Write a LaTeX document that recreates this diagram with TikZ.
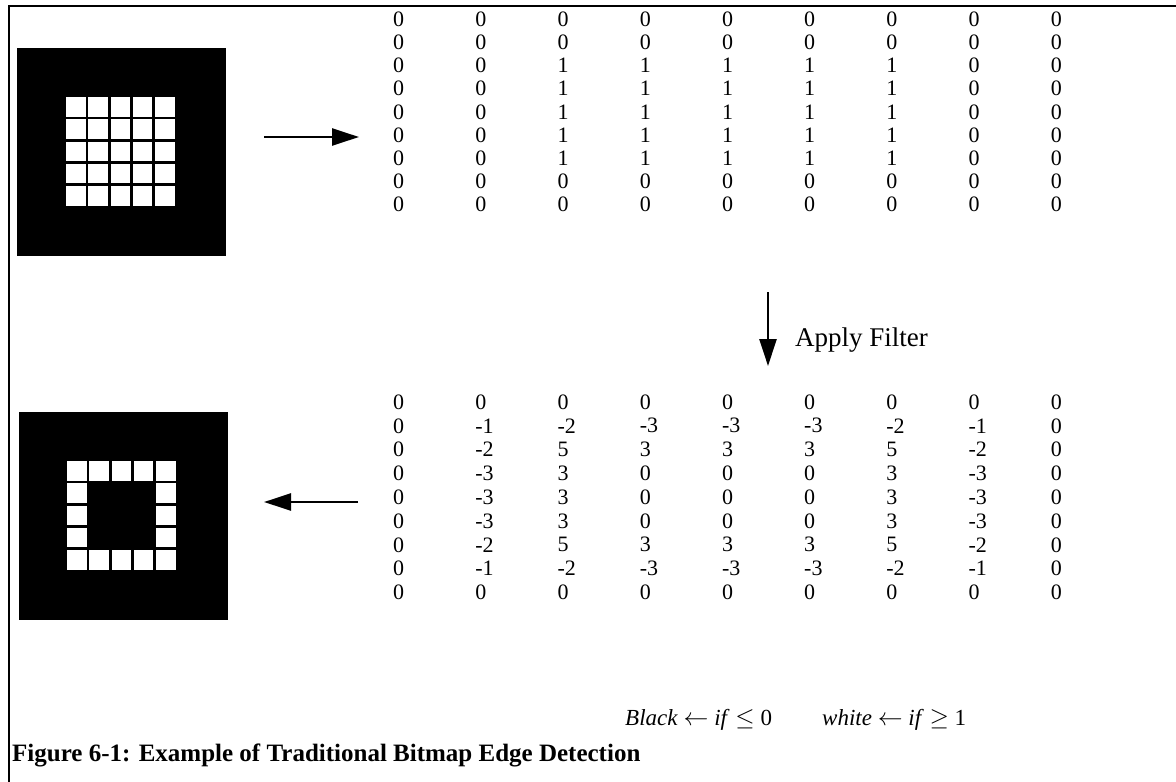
\documentclass[tikz,border=0pt]{standalone}
\usepackage{fontspec}
\setmainfont{Liberation Serif}
\usetikzlibrary{arrows.meta}

\begin{document}
\begin{tikzpicture}[x=1pt,y=-1pt,
  num/.style={anchor=west,inner sep=0pt,font=\fontsize{22}{22}\selectfont},
  bitmap/.style={fill=black,inner sep=0pt,anchor=north west,minimum width=209pt,minimum height=208pt},
  flow/.style={line width=2.6pt,-{Triangle[length=27pt,width=17pt]}},
  label/.style={anchor=base west,inner sep=0pt,font=\fontsize{23}{23}\selectfont},
]
\useasboundingbox (0,0) rectangle (1176,782);

% frame
\draw[line width=2.4pt] (9,783) -- (9,6) -- (1177,6);

% input bitmap: 5x5 white block
\node[bitmap] (src) at (17,48) {};
\foreach \i in {0,...,4}
  \foreach \j in {0,...,4}
    \fill[white] ({66+22.3*\i},{97+22.3*\j}) rectangle +(19.5,19.5);

% output bitmap: only the edge cells stay white
\node[bitmap] (dst) at (19,412) {};
\foreach \i in {0,...,4}
  \foreach \j in {0,4}
    \fill[white] ({67+22.3*\i},{461+22.3*\j}) rectangle +(19.5,19.5);
\foreach \i in {0,4}
  \foreach \j in {1,2,3}
    \fill[white] ({67+22.3*\i},{461+22.3*\j}) rectangle +(19.5,19.5);

% input matrix
\foreach \row [count=\r] in {
  {0,0,0,0,0,0,0,0,0},
  {0,0,0,0,0,0,0,0,0},
  {0,0,1,1,1,1,1,0,0},
  {0,0,1,1,1,1,1,0,0},
  {0,0,1,1,1,1,1,0,0},
  {0,0,1,1,1,1,1,0,0},
  {0,0,1,1,1,1,1,0,0},
  {0,0,0,0,0,0,0,0,0},
  {0,0,0,0,0,0,0,0,0}}
  \foreach \v [count=\c] in \row
    \node[num] (in-\r-\c) at ({393+82.2*(\c-1)},{19+23.2*(\r-1)}) {\v};

% filtered matrix
\foreach \row [count=\r] in {
  {0,0,0,0,0,0,0,0,0},
  {0,-1,-2,-3,-3,-3,-2,-1,0},
  {0,-2,5,3,3,3,5,-2,0},
  {0,-3,3,0,0,0,3,-3,0},
  {0,-3,3,0,0,0,3,-3,0},
  {0,-3,3,0,0,0,3,-3,0},
  {0,-2,5,3,3,3,5,-2,0},
  {0,-1,-2,-3,-3,-3,-2,-1,0},
  {0,0,0,0,0,0,0,0,0}}
  \foreach \v [count=\c] in \row
    \node[num] (out-\r-\c) at ({393+82.2*(\c-1)},{402+23.8*(\r-1)}) {\v};

% arrows
\coordinate (a1s) at (264,137);
\coordinate (a1e) at (359,137);
\draw[flow] (a1s) -- (a1e);
\coordinate (a2s) at (358,502);
\coordinate (a2e) at (264,502);
\draw[flow] (a2s) -- (a2e);
\coordinate (a3s) at (768,292);
\coordinate (a3e) at (768,366);
\draw[flow] (a3s) -- (a3e);

\node[label,font=\fontsize{27}{27}\selectfont] (filter) at (795,346) {Apply Filter};

% thresholds
\node[label] (blk) at (625,725) {\textit{Black} $\leftarrow$ \textit{if} $\leq$ 0};
\node[label] (wht) at (822,725) {\textit{white} $\leftarrow$ \textit{if} $\geq$ 1};

% caption
\node[anchor=base west,inner sep=0pt,font=\bfseries\fontsize{25}{25}\selectfont] (cap) at (12,761)
  {Figure 6-1: Example of Traditional Bitmap Edge Detection};
\end{tikzpicture}
\end{document}
